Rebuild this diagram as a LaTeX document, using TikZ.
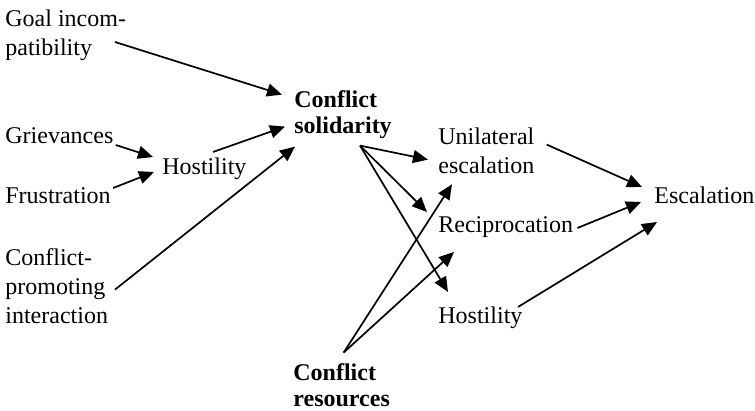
\documentclass[tikz,border=0pt]{standalone}
\usepackage{fontspec}
\setmainfont{Liberation Serif}
\usetikzlibrary{arrows.meta}
\tikzset{
  lbl/.style={inner sep=0, align=left, font=\fontsize{12}{14.5}\selectfont},
  boldlbl/.style={lbl, font=\fontsize{12}{13}\selectfont\bfseries},
  arr/.style={-{Triangle[length=7.5pt, width=6.5pt]}, line width=.85pt}
}
\begin{document}
\begin{tikzpicture}[x=.5pt, y=-.5pt]
            \useasboundingbox (0,0) rectangle (755,411);
            \node[lbl, anchor=north west] (goal) at (5,9) {Goal incom-\\patibility};
            \node[lbl, anchor=base west] (griev) at (5,144) {Grievances};
            \node[lbl, anchor=base west] (frust) at (5,204) {Frustration};
            \node[lbl, anchor=north west] (promo) at (5,248.6) {Conflict-\\promoting\\interaction};
            \node[lbl, anchor=base west] (hostl) at (162,175) {Hostility};
            \node[boldlbl, anchor=north west] (solid) at (294,90.6) {Conflict\\solidarity};
            \node[boldlbl, anchor=north west] (resrc) at (293,363.6) {Conflict\\resources};
            \node[lbl, anchor=north west] (unil) at (438,127.6) {Unilateral\\escalation};
            \node[lbl, anchor=base west] (recip) at (438,233) {Reciprocation};
            \node[lbl, anchor=base west] (hostr) at (438,323) {Hostility};
            \node[lbl, anchor=base west] (escal) at (654,204) {Escalation};
            \draw[arr] ([shift={(110,33)}]goal.north west) -- ([shift={(-12,4)}]solid.north west);
            \draw[arr] ([shift={(2,1)}]griev.base east) -- ([shift={(-9,-18)}]hostl.base west);
            \draw[arr] ([shift={(2,-16)}]frust.base east) -- ([shift={(-8,-3)}]hostl.base west);
            \draw[arr] ([shift={(51,-23)}]hostl.base west) -- ([shift={(-9,36)}]solid.north west);
            \draw[arr] ([shift={(110,41)}]promo.north west) -- ([shift={(1,56)}]solid.north west);
            \draw[arr] ([shift={(66,55)}]solid.north west) -- ([shift={(-10,32)}]unil.north west);
            \draw[arr] ([shift={(66,55)}]solid.north west) -- ([shift={(-11,-21)}]recip.base west);
            \draw[arr] ([shift={(66,55)}]solid.north west) -- ([shift={(10,-31)}]hostr.base west);
            \draw[arr] ([shift={(2,-11)}]resrc.north) -- ([shift={(14,10)}]unil.south west);
            \draw[arr] ([shift={(2,-11)}]resrc.north) -- ([shift={(16,19)}]recip.base west);
            \draw[arr] ([shift={(12,17)}]unil.north east) -- ([shift={(-12,-17)}]escal.base west);
            \draw[arr] ([shift={(4,-5)}]recip.base east) -- ([shift={(-13,-2)}]escal.base west);
            \draw[arr] ([shift={(80,-16)}]hostr.base west) -- ([shift={(3,18)}]escal.base west);
        \end{tikzpicture}
\end{document}
